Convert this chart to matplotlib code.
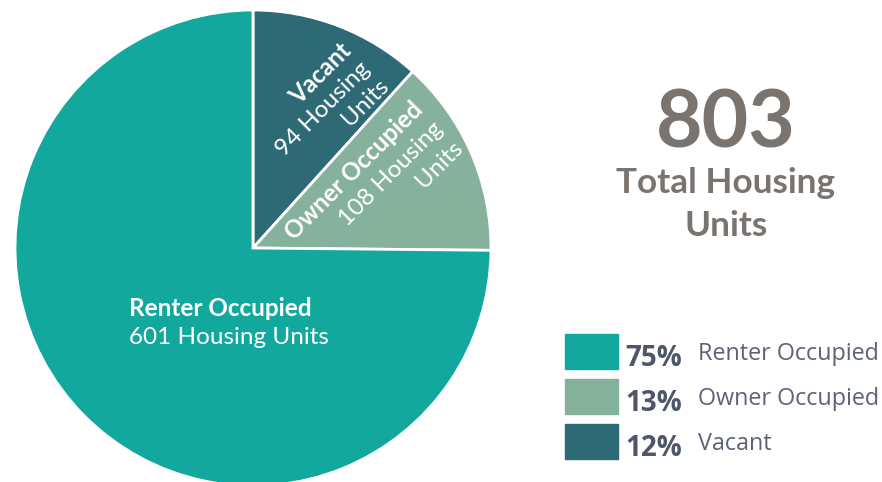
import matplotlib.pyplot as plt
import numpy as np

plt.rcParams["font.family"] = ["Lato", "DejaVu Sans"]

# housing units by tenure
categories = ["Vacant", "Owner Occupied", "Renter Occupied"]
units = [94, 108, 601]
colors = ["#2e6a76", "#86b29d", "#12a89d"]
total = sum(units)

legend_names = ["Renter Occupied", "Owner Occupied", "Vacant"]
legend_pcts = ["75%", "13%", "12%"]
legend_colors = ["#12a89d", "#86b29d", "#2e6a76"]

W, H = 882, 482
fig = plt.figure(figsize=(W / 100, H / 100), dpi=100)

# pie centred at (253, 248) px, radius 238 px
cx, cy, r = 253, 248, 238
ax = fig.add_axes([(cx - r) / W, 1 - (cy + r) / H, 2 * r / W, 2 * r / H])
ax.pie(
    units,
    colors=colors,
    startangle=90,
    counterclock=False,
    radius=1,
    wedgeprops=dict(edgecolor="white", linewidth=2),
)
ax.set_xlim(-1, 1)
ax.set_ylim(-1, 1)
ax.set_aspect("equal")
ax.axis("off")


def px(x, y):
    return (x - cx) / r, (cy - y) / r


# renter label
ax.text(*px(129, 316), "Renter Occupied", color="white", fontsize=17.5,
        fontweight="bold", ha="left", va="baseline")
ax.text(*px(129, 344), f"{units[2]} Housing Units", color="white",
        fontsize=17.5, ha="left", va="baseline")

# rotated labels in the small slices
rot_labels = [
    (["Vacant", f"{units[0]} Housing", "Units"], [(353, 52), (371, 70), (390, 87)]),
    (["Owner Occupied", f"{units[1]} Housing", "Units"], [(424, 111), (444, 130), (464, 149)]),
]
for lines, anchors in rot_labels:
    for i, (s, (x, y)) in enumerate(zip(lines, anchors)):
        ax.text(*px(x, y), s, color="white", fontsize=17.5,
                fontweight="bold" if i == 0 else "normal",
                rotation=45, rotation_mode="anchor", ha="right", va="baseline")

# total
fig.text(726 / W, 1 - 148 / H, str(total), color="#7a7470", fontsize=58,
         fontweight="bold", ha="center", va="baseline")
fig.text(726 / W, 1 - 193 / H, "Total Housing", color="#7a7470", fontsize=25.3,
         fontweight="bold", ha="center", va="baseline")
fig.text(726 / W, 1 - 236 / H, "Units", color="#7a7470", fontsize=25.3,
         fontweight="bold", ha="center", va="baseline")

# legend
box_top = [334, 379, 424]
for top, name, pct, col in zip(box_top, legend_names, legend_pcts, legend_colors):
    fig.patches.append(plt.Rectangle((565 / W, 1 - (top + 35) / H), 53 / W, 35 / H,
                                     transform=fig.transFigure, color=col))
    fig.text(625 / W, 1 - (top + 32) / H, pct, color="#4f566a", fontsize=20,
             fontweight="bold", family=["Open Sans", "DejaVu Sans"],
             ha="left", va="baseline")
    fig.text(698 / W, 1 - (top + 26) / H, name, color="#5d6376", fontsize=16.8,
             family=["Open Sans", "DejaVu Sans"], ha="left", va="baseline")

fig.savefig("out.png", dpi=100, facecolor="white")
